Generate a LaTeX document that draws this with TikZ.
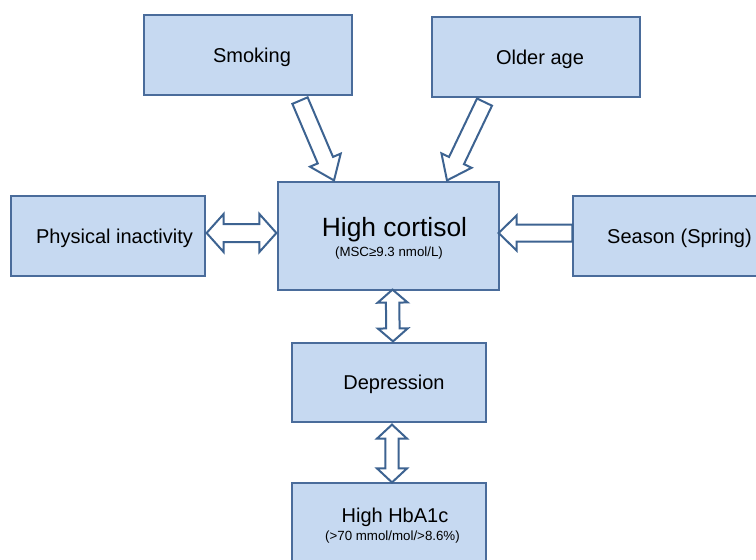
\documentclass[tikz,border=0pt]{standalone}
\usepackage{fontspec}
\setmainfont{Liberation Sans}
\usetikzlibrary{calc}
\definecolor{boxfill}{HTML}{C6D9F1}
\definecolor{boxline}{HTML}{4A6C9B}
\definecolor{arrline}{HTML}{3D6391}
\tikzset{
  box/.style={draw=boxline, fill=boxfill, line width=1.2pt, inner sep=0pt,
    text height=14.3pt, text depth=0pt, font=\fontsize{20}{24}\selectfont},
  arrowshape/.style={draw=arrline, fill=white, line width=2pt, line join=miter},
  subtext/.style={anchor=base, inner sep=0pt, font=\fontsize{13.3}{16}\selectfont},
  maintext/.style={anchor=base, inner sep=0pt, font=\fontsize{20}{24}\selectfont}
}
% single block arrow: from, to, shaft half-width, head half-width, head length
\newcommand{\BlkArr}[5]{%
  \coordinate (hbq) at ($(#2)!#5!(#1)$);
  \draw[arrowshape] ($(#1)!#3!90:(#2)$) -- ($(hbq)!#3!90:(#2)$) -- ($(hbq)!#4!90:(#2)$) -- (#2)
    -- ($(hbq)!#4!-90:(#2)$) -- ($(hbq)!#3!-90:(#2)$) -- ($(#1)!#3!-90:(#2)$) -- cycle;}
% double block arrow
\newcommand{\DblArr}[5]{%
  \coordinate (haq) at ($(#1)!#5!(#2)$);
  \coordinate (hbq) at ($(#2)!#5!(#1)$);
  \draw[arrowshape] (#1) -- ($(haq)!#4!90:(#2)$) -- ($(haq)!#3!90:(#2)$) -- ($(hbq)!#3!90:(#2)$)
    -- ($(hbq)!#4!90:(#2)$) -- (#2) -- ($(hbq)!#4!-90:(#2)$) -- ($(hbq)!#3!-90:(#2)$)
    -- ($(haq)!#3!-90:(#2)$) -- ($(haq)!#4!-90:(#2)$) -- cycle;}
\begin{document}
\begin{tikzpicture}[x=1pt, y=-1pt]
\useasboundingbox (0,0) rectangle (756,560);
\clip (0,0) rectangle (756,560);

% boxes
\node[box, minimum width=208pt, minimum height=80pt] (smk) at (248,55) {\hspace*{8pt}Smoking};
\node[box, minimum width=208pt, minimum height=80pt] (old) at (536,57) {\hspace*{8pt}Older age};
\node[box, minimum width=194pt, minimum height=80pt] (pi) at (108,236) {\hspace*{13pt}Physical inactivity};
\node[box, minimum width=207pt, minimum height=80pt] (sea) at (676.5,236) {\hspace*{6pt}Season (Spring)};
\node[box, minimum width=221pt, minimum height=108pt] (hc) at (388.5,236) {};
\node[maintext, font=\fontsize{26.4}{30}\selectfont] (hct) at ($(hc.north)+(6,55)$) {High cortisol};
\node[subtext] (hcs) at ($(hc.north)+(0.5,75)$) {(MSC≥9.3 nmol/L)};
\node[box, minimum width=194pt, minimum height=79pt] (dep) at (389,382.5) {\hspace*{10pt}Depression};
\node[box, minimum width=194pt, minimum height=80pt] (hba) at (389,523) {};
\node[maintext] (hbat) at ($(hba.north)+(6,40)$) {High HbA1c};
\node[subtext] (hbas) at ($(hba.north)+(3.5,58)$) {(>70 mmol/mol/>8.6\%)};

% connector end points
\coordinate (smkT) at ($(smk.south)+(52,5)$);
\coordinate (smkH) at ($(hc.north)+(-54.5,-1)$);
\coordinate (oldT) at ($(old.south)+(-51.5,4.5)$);
\coordinate (oldH) at ($(hc.north)+(58.5,-1)$);
\coordinate (piA) at ($(pi.east)+(1,-3)$);
\coordinate (piB) at ($(hc.west)+(-1,-3)$);
\coordinate (seaT) at ($(sea.west)+(0,-3)$);
\coordinate (seaH) at ($(hc.east)+(-1,-3)$);
\coordinate (hdA) at ($(hc.south)+(4,-1)$);
\coordinate (hdB) at ($(dep.north)+(4,-1)$);
\coordinate (dhA) at ($(dep.south)+(3,2)$);
\coordinate (dhB) at ($(hba.north)+(3,0)$);

% arrows
\BlkArr{smkT}{smkH}{8.3pt}{16.7pt}{22pt}
\BlkArr{oldT}{oldH}{8.3pt}{16.7pt}{22pt}
\DblArr{piA}{piB}{9pt}{19pt}{17pt}
\BlkArr{seaT}{seaH}{8.5pt}{17.5pt}{18pt}
\DblArr{hdA}{hdB}{6.7pt}{15pt}{13pt}
\DblArr{dhA}{dhB}{6.7pt}{15pt}{14pt}
\end{tikzpicture}
\end{document}
